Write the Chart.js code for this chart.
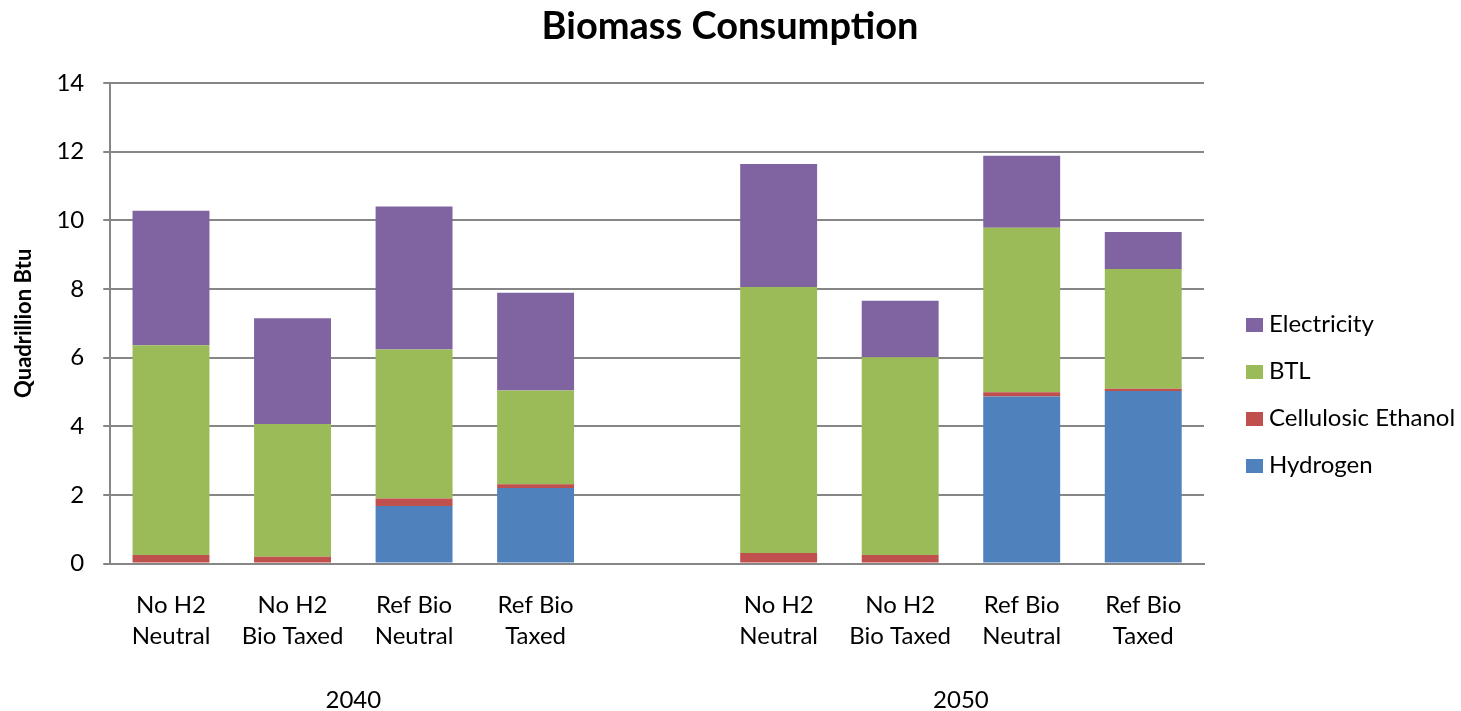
<!DOCTYPE html>
<html>
<head>
<meta charset="utf-8">
<script src="https://cdn.jsdelivr.net/npm/chart.js@4.4.1/dist/chart.umd.min.js"></script>
<style>
  html, body { margin: 0; padding: 0; background: #ffffff; }
  #wrap { width: 1461px; height: 711px; }
</style>
</head>
<body>
<div id="wrap"><canvas id="c" width="1461" height="711"></canvas></div>
<script>
// Scenario labels (an empty slot separates the 2040 and 2050 groups)
const categories = [
  ['No H2', 'Neutral'], ['No H2', 'Bio Taxed'], ['Ref Bio', 'Neutral'], ['Ref Bio', 'Taxed'],
  '',
  ['No H2', 'Neutral'], ['No H2', 'Bio Taxed'], ['Ref Bio', 'Neutral'], ['Ref Bio', 'Taxed']
];
const years = ['2040', '2050'];
const yearGroups = [[0, 3], [5, 8]];

// Consumption by end use, quadrillion Btu
const hydrogen    = [0,    0,    1.68, 2.20, null, 0,    0,    4.87, 5.03];
const cellulosic  = [0.25, 0.20, 0.22, 0.11, null, 0.31, 0.25, 0.12, 0.06];
const btl         = [6.11, 3.87, 4.34, 2.73, null, 7.75, 5.76, 4.79, 3.49];
const electricity = [3.92, 3.08, 4.16, 2.85, null, 3.58, 1.65, 2.10, 1.08];

const yTicks = [0, 2, 4, 6, 8, 10, 12, 14];

const chartTitle = 'Biomass Consumption';
const FONT = 'Lato, "Liberation Sans", sans-serif';
const TEXT = '#000000';

// Title centred on the full canvas width
const canvasTitle = {
  id: 'canvasTitle',
  afterDraw(chart) {
    const ctx = chart.ctx;
    ctx.save();
    ctx.font = 'bold 38px ' + FONT;
    ctx.fillStyle = TEXT;
    ctx.textAlign = 'center';
    ctx.textBaseline = 'middle';
    ctx.fillText(chartTitle, 730, 27);
    ctx.restore();
  }
};

// Year labels under each group of scenarios
const yearLabels = {
  id: 'yearLabels',
  afterDraw(chart) {
    const x = chart.scales.x;
    const ctx = chart.ctx;
    ctx.save();
    ctx.font = '24px ' + FONT;
    ctx.fillStyle = TEXT;
    ctx.textAlign = 'center';
    ctx.textBaseline = 'middle';
    yearGroups.forEach((g, i) => {
      const cx = (x.getPixelForValue(g[0]) + x.getPixelForValue(g[1])) / 2;
      ctx.fillText(years[i], cx, 700);
    });
    ctx.restore();
  }
};

// Legend at the right, top entry = top of the stack
const sideLegend = {
  id: 'sideLegend',
  afterDraw(chart) {
    const ctx = chart.ctx;
    const ds = chart.data.datasets.slice().reverse();
    ctx.save();
    ctx.font = '24px ' + FONT;
    ctx.textBaseline = 'middle';
    ctx.textAlign = 'left';
    ds.forEach((d, i) => {
      const y = 324 + i * 47;
      ctx.fillStyle = d.backgroundColor;
      ctx.fillRect(1246, y - 6, 17, 14);
      ctx.fillStyle = TEXT;
      ctx.fillText(d.label, 1269, y);
    });
    ctx.restore();
  }
};

new Chart(document.getElementById('c'), {
  type: 'bar',
  data: {
    labels: categories,
    datasets: [
      { label: 'Hydrogen', data: hydrogen, backgroundColor: '#4F81BD' },
      { label: 'Cellulosic Ethanol', data: cellulosic, backgroundColor: '#C0504D' },
      { label: 'BTL', data: btl, backgroundColor: '#9BBB59' },
      { label: 'Electricity', data: electricity, backgroundColor: '#8064A2' }
    ]
  },
  options: {
    responsive: false,
    animation: false,
    devicePixelRatio: 1,
    categoryPercentage: 1,
    barPercentage: 0.633,
    layout: { padding: { left: 11, right: 257, top: 83, bottom: 33 } },
    plugins: {
      legend: { display: false },
      tooltip: { enabled: false },
      title: { display: false }
    },
    scales: {
      x: {
        stacked: true,
        grid: { display: false, drawTicks: false },
        border: { color: '#868686', width: 2 },
        ticks: {
          color: TEXT,
          font: { family: FONT, size: 24, lineHeight: 1.3 },
          padding: 26,
          maxRotation: 0,
          autoSkip: false
        }
      },
      y: {
        stacked: true,
        min: 0,
        max: 14,
        afterBuildTicks(axis) { axis.ticks = yTicks.map(v => ({ value: v })); },
        grid: { color: '#868686', lineWidth: 2, tickLength: 7, drawTicks: true },
        border: { color: '#868686', width: 2 },
        ticks: {
          color: TEXT,
          font: { family: FONT, size: 24 },
          padding: 19
        },
        title: {
          display: true,
          text: 'Quadrillion Btu',
          color: TEXT,
          font: { family: FONT, size: 22, weight: 'bold' },
          padding: { top: 0, bottom: 0 }
        }
      }
    }
  },
  plugins: [canvasTitle, yearLabels, sideLegend]
});
</script>
</body>
</html>
